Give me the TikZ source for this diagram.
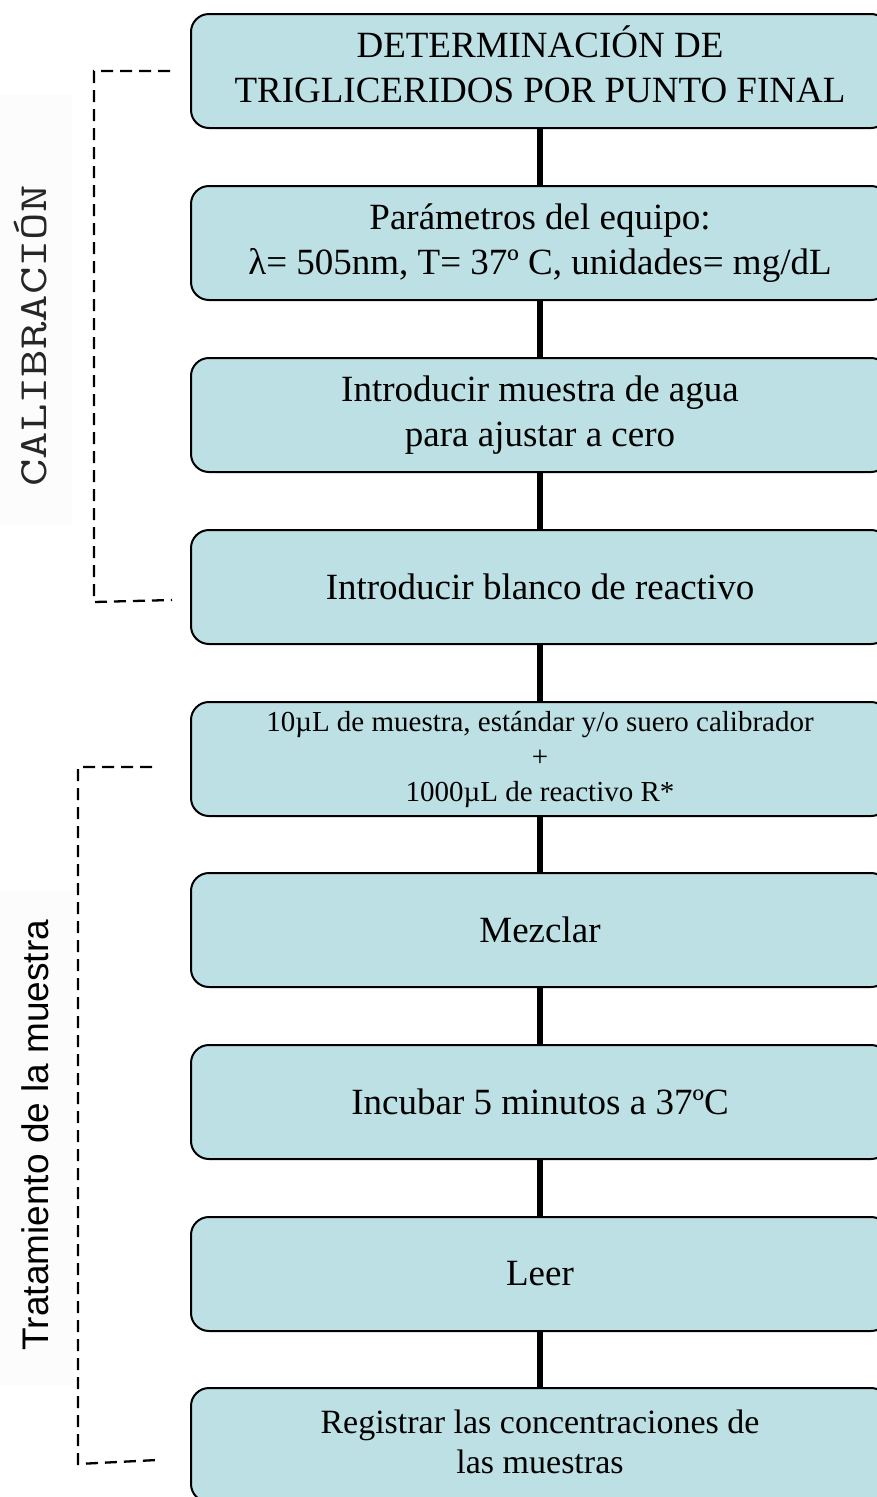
\documentclass[tikz,border=0pt]{standalone}
\usepackage{fontspec}
\setmainfont{Liberation Serif}
\newfontfamily\sansfam{Liberation Sans}
\definecolor{boxfill}{RGB}{188,224,227}
\definecolor{panelgray}{RGB}{252,252,252}
\newcommand{\liftlines}[2]{\raisebox{#1}{\begin{tabular}{@{}c@{}}#2\end{tabular}}}
\tikzset{
  stepbox/.style={draw=black, line width=2pt, fill=boxfill, rounded corners=18pt,
    minimum width=698pt, minimum height=114pt, inner sep=0pt, align=center,
    font=\fontsize{37}{45}\selectfont},
  link/.style={line width=6pt, black},
  bracket/.style={line width=2.3pt, dash pattern=on 12pt off 7pt},
  sidelabel/.style={rotate=90, inner sep=0pt}
}
\begin{document}
\begin{tikzpicture}[x=1pt, y=-1pt]
\clip (0,0) rectangle (877,1497);
\fill[white] (0,0) rectangle (877,1497);

% faint panels behind the side labels
\fill[panelgray] (0,95) rectangle (72,525);
\fill[panelgray] (0,890) rectangle (73,1385);

% process steps
\node[stepbox] (b1) at (540,71) {\liftlines{8pt}{DETERMINACIÓN DE\\TRIGLICERIDOS POR PUNTO FINAL}};
\node[stepbox] (b2) at (540,243) {Parámetros del equipo:\\λ= 505nm, T= 37º C, unidades= mg/dL};
\node[stepbox] (b3) at (540,415) {Introducir muestra de agua\\para ajustar a cero};
\node[stepbox] (b4) at (540,587) {Introducir blanco de reactivo};
\node[stepbox, font=\fontsize{29}{35}\selectfont] (b5) at (540,759)
  {10µL de muestra, estándar y/o suero calibrador\\+\\1000µL de reactivo R*};
\node[stepbox] (b6) at (540,930) {Mezclar};
\node[stepbox] (b7) at (540,1102) {Incubar 5 minutos a 37ºC};
\node[stepbox] (b8) at (540,1274) {Leer};
\node[stepbox, font=\fontsize{34}{40}\selectfont] (b9) at (540,1445)
  {\liftlines{7pt}{Registrar las concentraciones de\\las muestras}};

% connectors between steps
\foreach \a/\b in {b1/b2,b2/b3,b3/b4,b4/b5,b5/b6,b6/b7,b7/b8,b8/b9}
  \draw[link] (\a.south) -- (\b.north);

% calibration bracket
\coordinate (c1) at (170,71);
\coordinate (c2) at (94,71);
\coordinate (c3) at (94,602);
\coordinate (c4) at (172,600);
\draw[bracket] (c1) -- (c2) -- (c3) -- (c4);
\node[sidelabel, font=\ttfamily\fontsize{40}{44}\selectfont, text=black!85] (cal) at (31,336)
  {\scalebox{1.33}[1]{CALIBRACIÓN}};

% sample treatment bracket
\coordinate (t1) at (152,767);
\coordinate (t2) at (78,767);
\coordinate (t3) at (78,1464);
\coordinate (t4) at (157,1460);
\draw[bracket] (t1) -- (t2) -- (t3) -- (t4);
\node[sidelabel, font=\sansfam\fontsize{37}{40}\selectfont] (trat) at (35,1135) {Tratamiento de la muestra};
\end{tikzpicture}
\end{document}
